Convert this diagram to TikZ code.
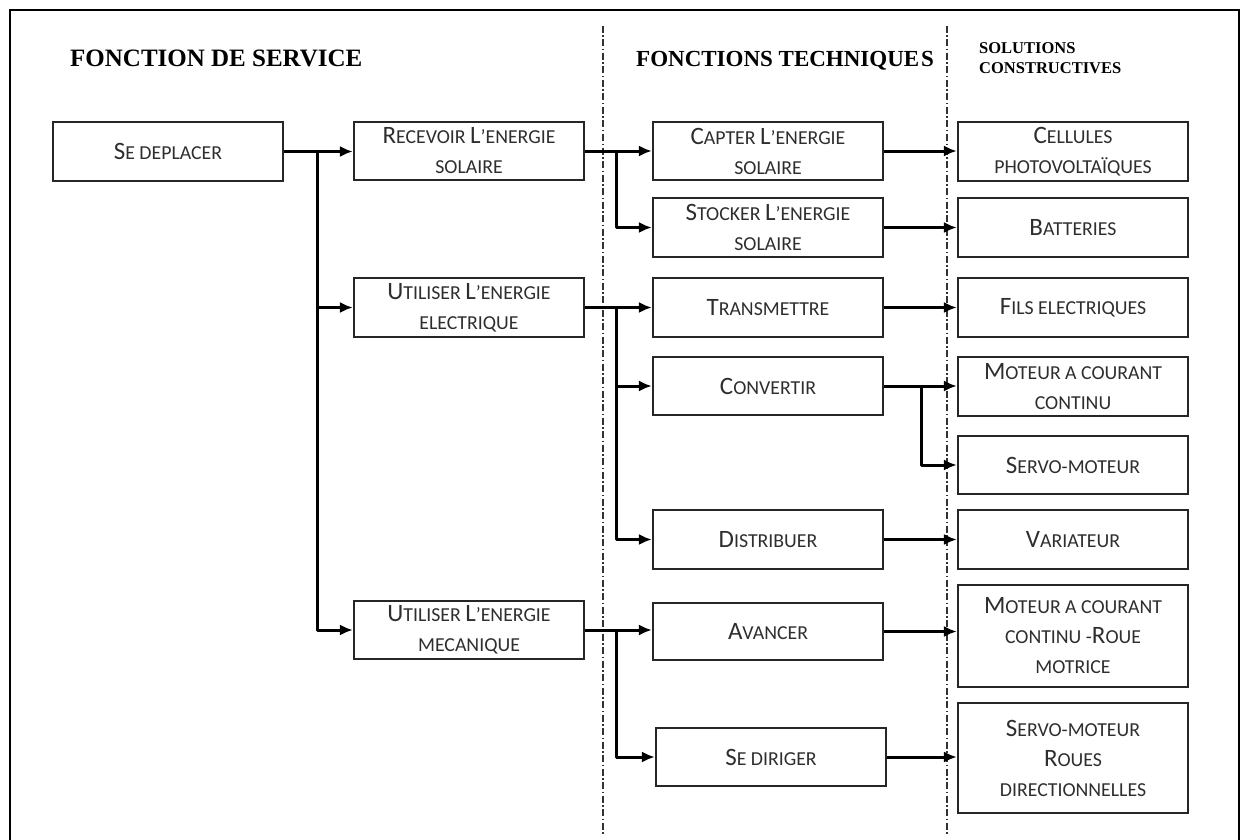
\documentclass[tikz,border=0pt]{standalone}
\usepackage{fontspec}
\setmainfont{Liberation Serif}
\newfontfamily\boxfont{Carlito}
\usetikzlibrary{arrows.meta}
% capital and small-capital sizes used inside the boxes
\newcommand\BG{\fontsize{25}{30}\selectfont}
\newcommand\SM{\fontsize{19.8}{30}\selectfont}

\begin{document}
\begin{tikzpicture}[x=1pt,y=-1pt,
  fbox/.style={draw=black!85, line width=2.2pt, minimum width=230pt, minimum height=59pt,
               inner sep=0pt, align=center, font=\boxfont\SM, text=black!82},
  arr/.style={line width=3pt, -{Latex[length=13pt,width=11pt]}, line join=round},
  sep/.style={line width=1.1pt, black!80, dash pattern=on 7pt off 2.5pt on 1.5pt off 2.5pt},
  head/.style={font=\bfseries\fontsize{25}{25}\selectfont, anchor=base west, inner sep=0pt},
  subhead/.style={font=\bfseries\fontsize{16.5}{20}\selectfont, anchor=base west, inner sep=0pt}]

\useasboundingbox (0,0) rectangle (1247,840);

% outer frame (open at the bottom)
\draw[line width=2.8pt] (10,845) -- (10,10) -- (1239,10) -- (1239,845);

% column separators
\draw[sep] (603,26) -- (603,835);
\draw[sep] (947,26) -- (947,835);

% column titles
\node[head] (hs) at (70,67) {FONCTION DE SERVICE};
\node[head, font=\bfseries\fontsize{23}{23}\selectfont] (ht) at (636,67) {FONCTIONS TECHNIQUE\hspace{2pt}S};
\node[subhead] (hc1) at (979,54) {SOLUTIONS};
\node[subhead] (hc2) at (979,74) {CONSTRUCTIVES};

% service function
\node[fbox] (sd) at (168,151.5) {{\BG S}E DEPLACER};

% second column
\node[fbox, minimum height=58pt] (rec) at (469,151) {{\BG R}ECEVOIR {\BG L}’ENERGIE\\SOLAIRE};
\node[fbox] (uel) at (469,307.5) {{\BG U}TILISER {\BG L}’ENERGIE\\ELECTRIQUE};
\node[fbox, minimum height=58pt] (umc) at (469,630) {{\BG U}TILISER {\BG L}’ENERGIE\\MECANIQUE};

% technical functions
\node[fbox, minimum height=58pt] (cap) at (768,151) {{\BG C}APTER {\BG L}’ENERGIE\\SOLAIRE};
\node[fbox] (sto) at (768,227.5) {{\BG S}TOCKER {\BG L}’ENERGIE\\SOLAIRE};
\node[fbox] (tra) at (768,307.5) {{\BG T}RANSMETTRE};
\node[fbox, minimum height=58pt] (con) at (768,386) {{\BG C}ONVERTIR};
\node[fbox] (dis) at (768,539.5) {{\BG D}ISTRIBUER};
\node[fbox, minimum height=57pt] (ava) at (768,631.5) {{\BG A}VANCER};
\node[fbox, minimum height=58pt] (sed) at (771,757) {{\BG S}E DIRIGER};

% constructive solutions
\node[fbox] (cel) at (1073,151.5) {{\BG C}ELLULES\\PHOTOVOLTAÏQUES};
\node[fbox] (bat) at (1073,227.5) {{\BG B}ATTERIES};
\node[fbox] (fil) at (1073,307.5) {{\BG F}ILS ELECTRIQUES};
\node[fbox] (mcc) at (1073,386.5) {{\BG M}OTEUR A COURANT\\CONTINU};
\node[fbox, minimum height=58pt] (ser) at (1073,465) {{\BG S}ERVO-MOTEUR};
\node[fbox] (var) at (1073,539.5) {{\BG V}ARIATEUR};
\node[fbox, minimum height=102pt] (mcr) at (1073,636) {{\BG M}OTEUR A COURANT\\CONTINU -{\BG R}OUE\\MOTRICE};
\node[fbox, minimum height=110pt] (srr) at (1073,758) {{\BG S}ERVO-MOTEUR\\{\BG R}OUES\\DIRECTIONNELLES};

% branching points
\coordinate (j1) at ([xshift=33pt]sd.east);
\coordinate (j2) at ([xshift=31pt]rec.east);
\coordinate (j3) at ([xshift=31pt]uel.east);
\coordinate (j4) at ([xshift=31pt]umc.east);
\coordinate (j5) at ([xshift=37pt]con.east);

% service function to its sub-functions
\draw[arr] (sd.east) -- (sd.east -| rec.west);
\draw[arr] (j1) |- (uel.west);
\draw[arr] (j1) |- (umc.west);

% sub-functions to technical functions
\draw[arr] (rec.east) -- (rec.east -| cap.west);
\draw[arr] (j2) |- (sto.west);
\draw[arr] (uel.east) -- (uel.east -| tra.west);
\draw[arr] (j3) |- (con.west);
\draw[arr] (j3) |- (dis.west);
\draw[arr] (umc.east) -- (umc.east -| ava.west);
\draw[arr] (j4) |- (sed.west);

% technical functions to solutions
\draw[arr] (cap.east) -- (cap.east -| cel.west);
\draw[arr] (sto.east) -- (sto.east -| bat.west);
\draw[arr] (tra.east) -- (tra.east -| fil.west);
\draw[arr] (con.east) -- (con.east -| mcc.west);
\draw[arr] (j5) |- (ser.west);
\draw[arr] (dis.east) -- (dis.east -| var.west);
\draw[arr] (ava.east) -- (ava.east -| mcr.west);
\draw[arr] (sed.east) -- (sed.east -| srr.west);
\end{tikzpicture}
\end{document}
